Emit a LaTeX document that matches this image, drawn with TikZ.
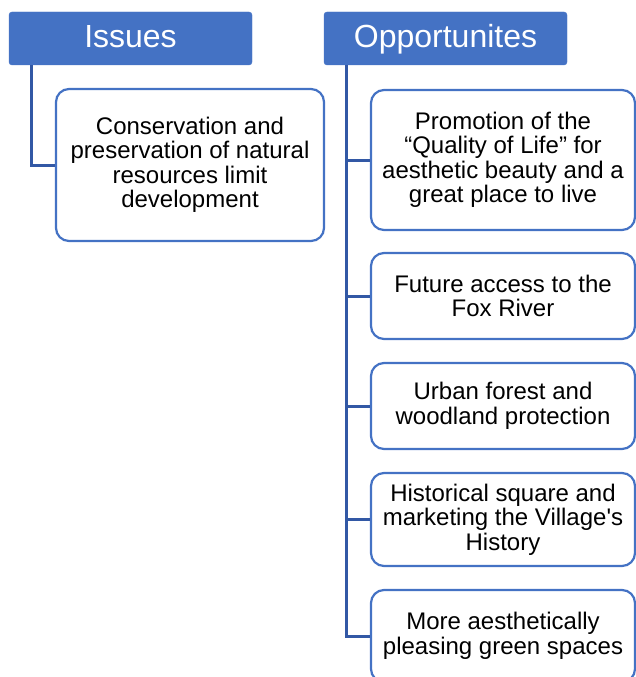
\documentclass[tikz,border=0pt]{standalone}
\usepackage{fontspec}
\setmainfont{Liberation Sans}
\definecolor{hdrblue}{HTML}{4472C4}
\definecolor{lineblue}{HTML}{3258A5}
\tikzset{
  hdr/.style={draw=hdrblue, fill=hdrblue, rounded corners=3pt, text=white,
    font=\fontsize{32}{34}\selectfont, minimum width=243pt, minimum height=53pt,
    inner sep=0pt, text height=23pt, text depth=5pt},
  child/.style={draw=hdrblue, fill=white, line width=2.2pt, rounded corners=13pt,
    font=\fontsize{24}{24.5}\selectfont, align=center, inner sep=0pt, minimum width=264pt},
  conn/.style={draw=lineblue, line width=3pt}
}
\begin{document}
\begin{tikzpicture}[x=1pt,y=-1pt]
\useasboundingbox (0,0) rectangle (636,677);
\clip (0,0) rectangle (636,677);
\node[hdr] (iss) at (130.5,38.5) {Issues};
\node[hdr] (opp) at (445.5,38.5) {Opportunites};
\node[child, minimum width=268pt, minimum height=152pt] (ic) at (190,165)
  {Conservation and\\preservation of natural\\resources limit\\development};
\node[child, minimum height=140pt] (o1) at (503,160)
  {Promotion of the\\“Quality of Life” for\\aesthetic beauty and a\\great place to live};
\node[child, minimum height=86pt] (o2) at (503,296)
  {Future access to the\\Fox River};
\node[child, minimum height=86pt] (o3) at (503,406)
  {Urban forest and\\woodland protection};
\node[child, minimum height=93pt] (o4) at (503,519.5)
  {Historical square and\\marketing the Village\textquotesingle s\\History};
\node[child, minimum height=92pt] (o5) at (503,636)
  {More aesthetically\\pleasing green spaces};
\draw[conn] ([xshift=23pt]iss.south west) |- (ic.west);
\draw[conn] ([xshift=23pt]opp.south west) |- (o5.west);
\draw[conn] ([xshift=23pt]opp.south west) |- (o1.west);
\draw[conn] ([xshift=23pt]opp.south west) |- (o2.west);
\draw[conn] ([xshift=23pt]opp.south west) |- (o3.west);
\draw[conn] ([xshift=23pt]opp.south west) |- (o4.west);
\end{tikzpicture}
\end{document}
